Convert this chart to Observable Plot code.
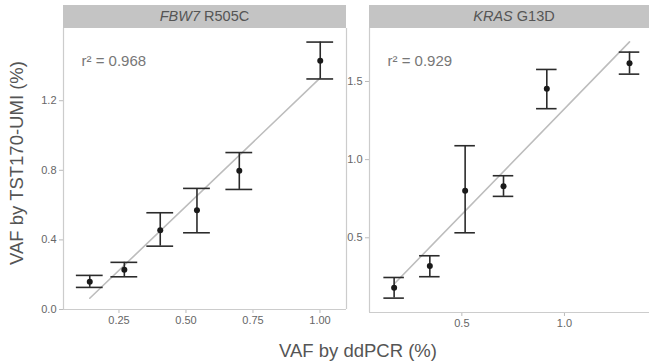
<!DOCTYPE html>
<html>
<head>
<meta charset="utf-8">
<script src="https://cdn.jsdelivr.net/npm/d3@7"></script>
<script src="https://cdn.jsdelivr.net/npm/@observablehq/plot@0.6"></script>
<style>
  html, body { margin: 0; padding: 0; background: #fff; overflow: hidden; }
  #wrap { position: relative; width: 649px; height: 362px; overflow: hidden; background: #fff;
          font-family: "Liberation Sans", Arial, sans-serif; }
  .panel { position: absolute; top: 0; }
  .strip { position: absolute; top: 5px; height: 23px; background: #c4c4c4; color: #555;
           font-size: 14.5px; line-height: 23px; text-align: center; }
  .ylab { position: absolute; left: 17px; top: 163px; transform: translate(-50%, -50%) rotate(-90deg);
          white-space: nowrap; font-size: 18.5px; color: #555; }
  .xlab { position: absolute; left: 358px; top: 340px; transform: translateX(-50%);
          white-space: nowrap; font-size: 18.5px; color: #555; }
  svg g[aria-label$="tick"] path, svg .tick line { stroke: #bbb; }
</style>
</head>
<body>
<div id="wrap">
  <div class="strip" style="left:63px; width:283px;"><i>FBW7</i> R505C</div>
  <div class="strip" style="left:369px; width:290px;"><i>KRAS</i> G13D</div>
  <div class="ylab">VAF by TST170-UMI (%)</div>
  <div class="xlab">VAF by ddPCR (%)</div>
</div>
<script>
// FBW7 R505C
const fbw7X  = [0.141, 0.270, 0.404, 0.541, 0.699, 1.001];
const fbw7Y  = [0.160, 0.228, 0.456, 0.571, 0.797, 1.430];
const fbw7Lo = [0.127, 0.188, 0.364, 0.441, 0.690, 1.325];
const fbw7Hi = [0.196, 0.271, 0.556, 0.696, 0.902, 1.537];
const fbw7R2 = "r\u00B2 = 0.968";
// KRAS G13D
const krasX  = [0.170, 0.344, 0.516, 0.703, 0.914, 1.317];
const krasY  = [0.180, 0.319, 0.801, 0.830, 1.454, 1.617];
const krasLo = [0.114, 0.251, 0.532, 0.765, 1.326, 1.547];
const krasHi = [0.246, 0.385, 1.089, 0.897, 1.577, 1.688];
const krasR2 = "r\u00B2 = 0.929";
// tick labels
const fbw7XTicks = [0.25, 0.50, 0.75, 1.00];
const fbw7YTicks = [0.0, 0.4, 0.8, 1.2];
const krasXTicks = [0.5, 1.0];
const krasYTicks = [0.5, 1.0, 1.5];

const capHalf = 0.05;

function rows(xs, ys, lo, hi) {
  return xs.map((x, i) => ({x, y: ys[i], lo: lo[i], hi: hi[i]}));
}

function panel(data, opts) {
  return Plot.plot({
    width: opts.width, height: opts.height,
    marginLeft: opts.marginLeft, marginRight: opts.marginRight,
    marginTop: 28, marginBottom: opts.height - opts.bottom,
    style: {fontFamily: "Liberation Sans, Arial, sans-serif", fontSize: "11px", color: "#666", background: "transparent"},
    x: {domain: opts.xDomain, ticks: opts.xTicks, tickFormat: opts.xFormat, tickSize: 4, tickPadding: 3, label: null},
    y: {domain: opts.yDomain, ticks: opts.yTicks, tickFormat: opts.yFormat, tickSize: 4, tickPadding: 3, label: null},
    marks: [
      Plot.ruleX(opts.frameX, {stroke: "#ccc", strokeWidth: 1.2}),
      Plot.ruleY([opts.yDomain[0]], {stroke: "#ccc", strokeWidth: 1.2}),
      Plot.linearRegressionY(data, {x: "x", y: "y", ci: 0, stroke: "#bdbdbd", strokeWidth: 1.6}),
      Plot.ruleX(data, {x: "x", y1: "lo", y2: "hi", stroke: "#2b2b2b", strokeWidth: 1.6}),
      Plot.ruleY(data, {y: "hi", x1: d => d.x - capHalf, x2: d => d.x + capHalf, stroke: "#2b2b2b", strokeWidth: 1.6}),
      Plot.ruleY(data, {y: "lo", x1: d => d.x - capHalf, x2: d => d.x + capHalf, stroke: "#2b2b2b", strokeWidth: 1.6}),
      Plot.dot(data, {x: "x", y: "y", r: 3, fill: "#1a1a1a", stroke: "none"}),
      Plot.text([opts.r2], {text: d => d, frameAnchor: "top-left", textAnchor: "start", lineAnchor: "top",
        dx: 18, dy: 27, fontSize: 15, fill: "#777"})
    ]
  });
}

const wrap = document.getElementById("wrap");

const left = panel(rows(fbw7X, fbw7Y, fbw7Lo, fbw7Hi), {
  width: 348, height: 330, bottom: 309, marginLeft: 63, marginRight: 2,
  xDomain: [0.043, 1.099], yDomain: [0, 1.615],
  frameX: [0.043, 1.099],
  xTicks: fbw7XTicks, yTicks: fbw7YTicks,
  xFormat: d3.format(".2f"), yFormat: d3.format(".1f"), r2: fbw7R2
});
left.classList.add("panel");
left.style.left = "0px";
wrap.appendChild(left);

const right = panel(rows(krasX, krasY, krasLo, krasHi), {
  width: 306, height: 333, bottom: 312, marginLeft: 23, marginRight: 0,
  xDomain: [0.050, 1.429], yDomain: [0.022, 1.839],
  frameX: [0.050],
  xTicks: krasXTicks, yTicks: krasYTicks,
  xFormat: d3.format(".1f"), yFormat: d3.format(".1f"), r2: krasR2
});
right.classList.add("panel");
right.style.left = "346px";
wrap.appendChild(right);
</script>
</body>
</html>
